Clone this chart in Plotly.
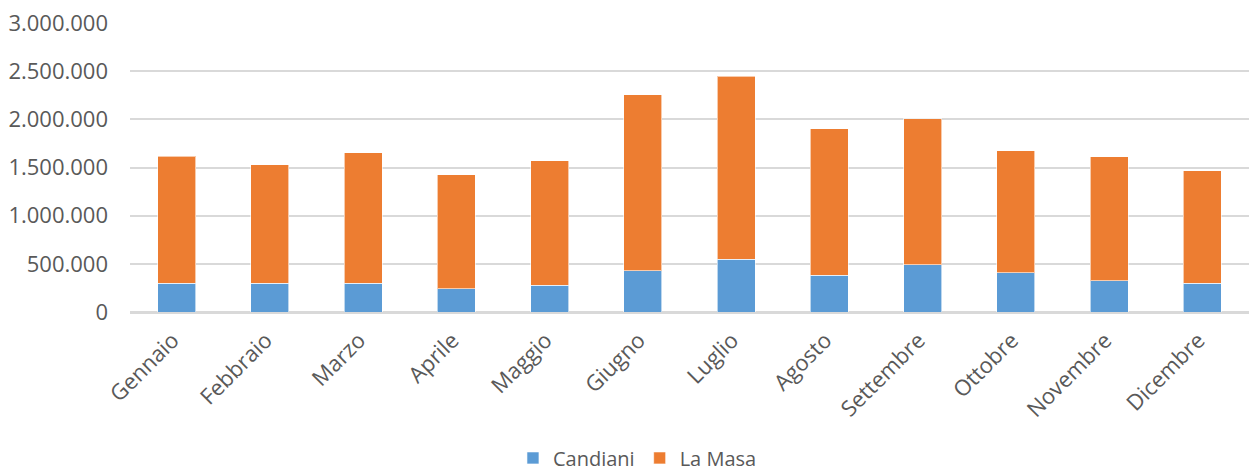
import plotly.graph_objects as go

# Monthly totals for the two sites
mesi = ["Gennaio", "Febbraio", "Marzo", "Aprile", "Maggio", "Giugno",
        "Luglio", "Agosto", "Settembre", "Ottobre", "Novembre", "Dicembre"]
candiani = [301000, 301000, 301000, 239000, 280000, 426000,
            550000, 384000, 488000, 405000, 322000, 301000]
la_masa = [1314000, 1228000, 1353000, 1186000, 1291000, 1830000,
           1896000, 1519000, 1519000, 1270000, 1290000, 1166000]

tick_vals = [0, 500000, 1000000, 1500000, 2000000, 2500000, 3000000]

BLUE = "#5B9BD5"
ORANGE = "#ED7D31"
TEXT = "#595959"
GRID = "#D9D9D9"
FONT = "Open Sans"

fig = go.Figure()
fig.add_trace(go.Bar(
    x=mesi, y=candiani, name="Candiani",
    marker=dict(color=BLUE, line=dict(color="rgba(255,255,255,0.6)", width=1)),
))
fig.add_trace(go.Bar(
    x=mesi, y=la_masa, name="La Masa",
    marker=dict(color=ORANGE, line=dict(color="rgba(255,255,255,0.6)", width=1)),
))

fig.update_layout(
    width=1250, height=474,
    barmode="stack",
    bargap=0.59,
    separators=",.",
    paper_bgcolor="white",
    plot_bgcolor="white",
    margin=dict(l=130, r=1, t=23, b=162, autoexpand=False),
    font=dict(family=FONT, color=TEXT),
    showlegend=True,
    legend=dict(
        orientation="h", x=0.4535, xanchor="center", y=-0.505, yanchor="middle",
        font=dict(family=FONT, size=20, color=TEXT),
        traceorder="normal",
    ),
    xaxis=dict(
        automargin=False,
        tickangle=-45,
        tickfont=dict(family=FONT, size=22, color=TEXT),
        showgrid=False,
        showline=True, linecolor=GRID, linewidth=1.5,
        ticks="",
        ticklabelstandoff=5,
        ticklabelshift=-4,
    ),
    yaxis=dict(
        automargin=False,
        range=[0, 3000000],
        tickvals=tick_vals,
        tickformat=",d",
        tickfont=dict(family=FONT, size=22, color=TEXT),
        showgrid=True, gridcolor=GRID, gridwidth=1.5,
        zeroline=True, zerolinecolor=GRID, zerolinewidth=1.5,
        showline=False,
        ticks="",
        ticklabelstandoff=21,
    ),
)

fig.write_html("out.html")
